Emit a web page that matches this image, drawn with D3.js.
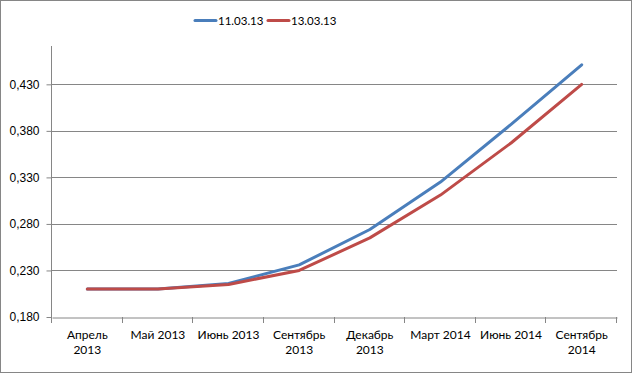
<!DOCTYPE html>
<html lang="ru">
<head>
<meta charset="utf-8">
<title>Chart</title>
<script src="https://d3js.org/d3.v7.min.js"></script>
<style>
  body { margin: 0; background: #fff; }
  svg { display: block; font-family: Lato, "Open Sans", sans-serif; }
  .tick text { fill: #000; }
</style>
</head>
<body>
<svg id="chart" width="632" height="373"></svg>
<script>
// categories and series
var months = ["Апрель 2013", "Май 2013", "Июнь 2013", "Сентябрь 2013", "Декабрь 2013", "Март 2014", "Июнь 2014", "Сентябрь 2014"];
var monthLines = [["Апрель", "2013"], ["Май 2013"], ["Июнь 2013"], ["Сентябрь", "2013"], ["Декабрь", "2013"], ["Март 2014"], ["Июнь 2014"], ["Сентябрь", "2014"]];
var s1103 = [0.210, 0.210, 0.216, 0.236, 0.274, 0.325, 0.387, 0.451];
var s1303 = [0.210, 0.210, 0.215, 0.230, 0.265, 0.311, 0.367, 0.430];
var yTicks = [0.18, 0.23, 0.28, 0.33, 0.38, 0.43];
var seriesNames = ["11.03.13", "13.03.13"];
var colors = ["#4A7EBB", "#BE4B48"];

var svg = d3.select("#chart"),
  width = +svg.attr("width"),
  height = +svg.attr("height");

// outer frame
svg.append("rect")
  .attr("x", 0.5).attr("y", 0.5)
  .attr("width", width - 1).attr("height", height - 1)
  .attr("fill", "#fff").attr("stroke", "#868686");

var pLeft = 52, pRight = 617, pTop = 46, pBottom = 317;

var x = d3.scaleBand().domain(months).range([pLeft, pRight]);
var y = d3.scaleLinear().domain([0.18, 0.4712]).range([pBottom, pTop]);

// gridlines
svg.append("g")
  .selectAll("line")
  .data(yTicks.slice(1))
  .enter().append("line")
  .attr("x1", pLeft).attr("x2", pRight)
  .attr("y1", function (d) { return Math.round(y(d)) + 0.5; })
  .attr("y2", function (d) { return Math.round(y(d)) + 0.5; })
  .attr("stroke", "#868686");

// y axis
var yAxis = svg.append("g")
  .attr("transform", "translate(" + (pLeft - 0.5) + ",0)")
  .call(d3.axisLeft(y).tickValues(yTicks).tickSize(5).tickPadding(7)
    .tickFormat(function (d) { return d3.format(".3f")(d).replace(".", ","); }));
yAxis.select(".domain").attr("d", "M0," + pTop + "V" + (pBottom + 0.5)).attr("stroke", "#868686");
yAxis.selectAll(".tick line").attr("stroke", "#868686");
yAxis.selectAll(".tick text").attr("font-size", "12px");

// x axis
var xAxis = svg.append("g")
  .attr("transform", "translate(0," + (Math.round(pBottom) + 0.5) + ")")
  .call(d3.axisBottom(x).tickSize(0).tickFormat(""));
xAxis.select(".domain").attr("stroke", "#868686");
xAxis.selectAll(".tick line").remove();
// tick marks at band boundaries
svg.append("g")
  .selectAll("line")
  .data(d3.range(months.length + 1))
  .enter().append("line")
  .attr("x1", function (i) { return Math.round(pLeft + i * x.bandwidth()) - 0.5; })
  .attr("x2", function (i) { return Math.round(pLeft + i * x.bandwidth()) - 0.5; })
  .attr("y1", pBottom).attr("y2", pBottom + 6)
  .attr("stroke", "#868686");

// x labels
var xl = svg.append("g").attr("font-size", "12px").attr("text-anchor", "middle");
months.forEach(function (m, i) {
  var t = xl.append("text")
    .attr("x", x(m) + x.bandwidth() / 2)
    .attr("y", 339);
  monthLines[i].forEach(function (s, j) {
    t.append("tspan")
      .attr("x", x(m) + x.bandwidth() / 2)
      .attr("dy", j === 0 ? 0 : 15)
      .text(s);
  });
});

// lines
var line = d3.line()
  .x(function (d, i) { return x(months[i]) + x.bandwidth() / 2; })
  .y(function (d) { return y(d); });

[s1103, s1303].forEach(function (s, k) {
  svg.append("path")
    .datum(s)
    .attr("fill", "none")
    .attr("stroke", colors[k])
    .attr("stroke-width", 3)
    .attr("stroke-linejoin", "round")
    .attr("stroke-linecap", "round")
    .attr("d", line);
});

// legend
var legendX = [195, 268];
var lg = svg.append("g");
seriesNames.forEach(function (n, k) {
  lg.append("line")
    .attr("x1", legendX[k]).attr("x2", legendX[k] + 21)
    .attr("y1", 20.5).attr("y2", 20.5)
    .attr("stroke", colors[k]).attr("stroke-width", 3)
    .attr("stroke-linecap", "round");
  lg.append("text")
    .attr("x", legendX[k] + 23).attr("y", 25)
    .attr("font-size", "11.5px")
    .text(n);
});
</script>
</body>
</html>
